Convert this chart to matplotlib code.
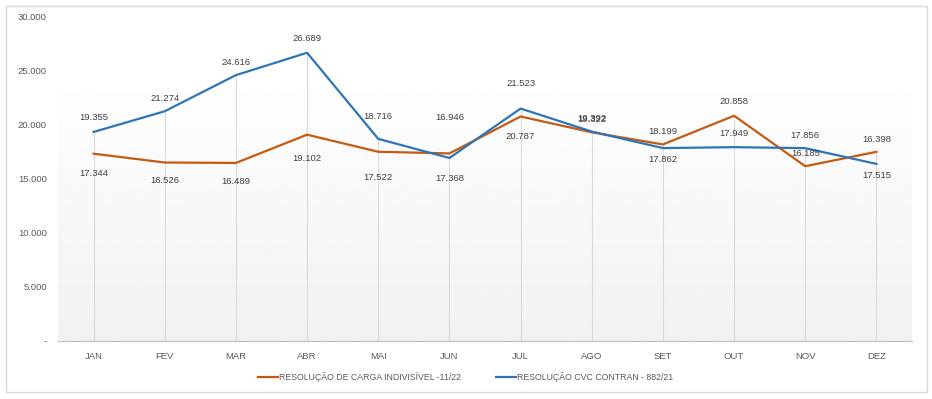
import matplotlib.pyplot as plt
import numpy as np
from matplotlib.patches import Rectangle

months = ["JAN", "FEV", "MAR", "ABR", "MAI", "JUN", "JUL", "AGO", "SET", "OUT", "NOV", "DEZ"]
carga_indivisivel = [17344, 16526, 16489, 19102, 17522, 17368, 20787, 19322, 18199, 20858, 16185, 17515]
cvc_contran = [19355, 21274, 24616, 26689, 18716, 16946, 21523, 19392, 17862, 17949, 17856, 16398]
y_ticks = [0, 5000, 10000, 15000, 20000, 25000, 30000]

series_names = ["RESOLUÇÃO DE CARGA INDIVISÍVEL -11/22", "RESOLUÇÃO CVC CONTRAN - 882/21"]

# label offsets in pixels (negative = above the point), like Excel placed them
orange_offsets = [20, 18, 19, 24, 26, 25, 20, -13, -13, -14, -13, 24]
blue_offsets = [-14, -13, -13, -14, -22, -40, -25, -13, 11, -14, -13, -24]

ORANGE = "#C55A11"
BLUE = "#2E75B6"
TEXT = "#404040"
GRID = "#d9d9d9"


def fmt(v):
    return f"{v:,}".replace(",", ".") if v else "-"


plt.rcParams["font.family"] = ["Liberation Sans", "DejaVu Sans"]

fig = plt.figure(figsize=(9.32, 3.99), dpi=100)
fig.patches.append(Rectangle((6 / 932, 7 / 399), 921 / 932, 386 / 399, transform=fig.transFigure,
                             fill=False, edgecolor=GRID, linewidth=1))

ax = fig.add_axes([58 / 932, 1 - 341 / 399, 854 / 932, 324 / 399])
x = np.arange(len(months))

# gradient background of the plot area
grad = np.linspace(1.0, 0.945, 256).reshape(-1, 1)
ax.imshow(grad, cmap="gray", vmin=0, vmax=1, aspect="auto", extent=(-0.5, 11.5, 0, 24900),
          zorder=0, interpolation="bilinear")

tops = np.maximum(carga_indivisivel, cvc_contran)
ax.vlines(x, 0, tops, color=GRID, linewidth=0.8, zorder=1)

ax.plot(x, carga_indivisivel, color=ORANGE, linewidth=1.6, label=series_names[0], zorder=3)
ax.plot(x, cvc_contran, color=BLUE, linewidth=1.6, label=series_names[1], zorder=3)

for xi, v, off in zip(x, carga_indivisivel, orange_offsets):
    ax.annotate(fmt(v), (xi, v), xytext=(0, -off), textcoords="offset pixels",
                ha="center", va="center", fontsize=6.8, color=TEXT, zorder=4)
for xi, v, off in zip(x, cvc_contran, blue_offsets):
    ax.annotate(fmt(v), (xi, v), xytext=(0, -off), textcoords="offset pixels",
                ha="center", va="center", fontsize=6.8, color=TEXT, zorder=4)

ax.set_xlim(-0.5, 11.5)
ax.set_ylim(0, 30000)
ax.set_xticks(x)
ax.set_xticklabels(months, fontsize=6.8, color="#595959")
ax.set_yticks(y_ticks)
ax.set_yticklabels([fmt(t) for t in y_ticks], fontsize=6.8, color="#595959")
ax.tick_params(length=0)
ax.tick_params(axis="y", pad=8)
ax.tick_params(axis="x", pad=8)
for side in ("top", "right", "left"):
    ax.spines[side].set_visible(False)
ax.spines["bottom"].set_color("#bfbfbf")
ax.patch.set_visible(False)

fig.legend(loc="center", bbox_to_anchor=(0.5, 1 - 377 / 399), ncol=2, frameon=False,
           fontsize=6.3, handlelength=2.2, handletextpad=0.2, columnspacing=4.0,
           labelcolor="#595959")

fig.savefig("out.png", dpi=100)
